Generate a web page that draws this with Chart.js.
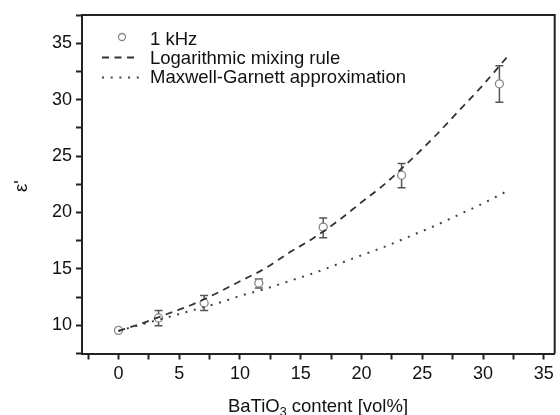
<!DOCTYPE html>
<html>
<head>
<meta charset="utf-8">
<script src="https://cdn.jsdelivr.net/npm/chart.js@4/dist/chart.umd.min.js"></script>
<style>
  html, body { margin: 0; padding: 0; background: #fff; }
  #wrap { width: 560px; height: 415px; }
</style>
</head>
<body>
<div id="wrap"><canvas id="c" width="560" height="415"></canvas></div>
<script>
// ---- data ----
const contentVol = [0, 3.3, 7.05, 11.55, 16.85, 23.3, 31.35];
const epsMeasured = [9.55, 10.65, 11.98, 13.75, 18.7, 23.3, 31.4];
const errLow = [9.45, 9.97, 11.3, 13.3, 17.75, 22.2, 29.76];
const errHigh = [9.65, 11.3, 12.65, 14.1, 19.5, 24.35, 33.0];

const curveX = [0, 2, 4, 6, 8, 10, 12, 14, 16, 18, 20, 22, 24, 26, 28, 30, 32];
const logMixing = [9.5, 10.2, 11.0, 11.8, 12.8, 13.9, 15.0, 16.4, 17.7, 19.2, 20.9, 22.6, 24.6, 26.7, 29.0, 31.3, 33.8];
const maxwellGarnett = [9.5, 10.1, 10.7, 11.3, 11.9, 12.6, 13.2, 13.9, 14.6, 15.4, 16.2, 17.0, 17.9, 18.8, 19.8, 20.8, 21.9];

const xTickLabels = [0, 5, 10, 15, 20, 25, 30, 35];
const yTickLabels = [10, 15, 20, 25, 30, 35];

const legendLabels = ['1 kHz', 'Logarithmic mixing rule', 'Maxwell-Garnett approximation'];
const xTitleParts = ['BaTiO', '3', ' content [vol%]'];
const yTitle = "\u03b5'";

const FONT = "'Liberation Sans', Arial, sans-serif";
const AXIS = '#222';

const scatterPts = contentVol.map((x, i) => ({x: x, y: epsMeasured[i]}));
const logPts = curveX.map((x, i) => ({x: x, y: logMixing[i]}));
const mgPts = curveX.map((x, i) => ({x: x, y: maxwellGarnett[i]}));

const decorPlugin = {
  id: 'decor',
  beforeDatasetsDraw(chart) {
    const ctx = chart.ctx, xs = chart.scales.x, ys = chart.scales.y;
    ctx.save();
    ctx.strokeStyle = '#555';
    ctx.lineWidth = 1.5;
    for (let i = 0; i < contentVol.length; i++) {
      const px = xs.getPixelForValue(contentVol[i]);
      const pl = ys.getPixelForValue(errLow[i]);
      const ph = ys.getPixelForValue(errHigh[i]);
      ctx.beginPath();
      ctx.moveTo(px, pl); ctx.lineTo(px, ph);
      ctx.moveTo(px - 4, pl); ctx.lineTo(px + 4, pl);
      ctx.moveTo(px - 4, ph); ctx.lineTo(px + 4, ph);
      ctx.stroke();
    }
    ctx.restore();
  },
  afterDraw(chart) {
    const ctx = chart.ctx, a = chart.chartArea;
    ctx.save();
    // top & right frame
    ctx.strokeStyle = AXIS;
    ctx.lineWidth = 2;
    ctx.beginPath();
    ctx.moveTo(a.left, a.top); ctx.lineTo(a.right, a.top); ctx.lineTo(a.right, a.bottom);
    ctx.stroke();

    // legend
    ctx.fillStyle = '#111';
    ctx.font = '18.5px ' + FONT;
    ctx.textBaseline = 'alphabetic';
    ctx.textAlign = 'left';
    const tx = 150, base = [45, 64, 83];
    legendLabels.forEach((t, i) => ctx.fillText(t, tx, base[i]));
    // circle symbol
    ctx.beginPath();
    ctx.arc(122, 37, 3.5, 0, Math.PI * 2);
    ctx.fillStyle = '#fff'; ctx.fill();
    ctx.strokeStyle = '#888'; ctx.lineWidth = 1.3; ctx.stroke();
    // dashed symbol
    ctx.strokeStyle = '#333'; ctx.lineWidth = 1.8;
    ctx.setLineDash([7, 5.5]);
    ctx.beginPath(); ctx.moveTo(102, 57.5); ctx.lineTo(138, 57.5); ctx.stroke();
    // dotted symbol
    ctx.strokeStyle = '#444'; ctx.lineWidth = 2;
    ctx.setLineDash([2, 6.7]);
    ctx.beginPath(); ctx.moveTo(102, 77.5); ctx.lineTo(140, 77.5); ctx.stroke();
    ctx.setLineDash([]);

    // x title with subscript
    ctx.fillStyle = '#111';
    const big = '18.5px ' + FONT, small = '12.5px ' + FONT;
    ctx.font = big; const w1 = ctx.measureText(xTitleParts[0]).width;
    ctx.font = small; const w2 = ctx.measureText(xTitleParts[1]).width;
    ctx.font = big; const w3 = ctx.measureText(xTitleParts[2]).width;
    let sx = 318 - (w1 + w2 + w3) / 2;
    const by = 412;
    ctx.font = big; ctx.fillText(xTitleParts[0], sx, by); sx += w1;
    ctx.font = small; ctx.fillText(xTitleParts[1], sx, by + 4); sx += w2;
    ctx.font = big; ctx.fillText(xTitleParts[2], sx, by);

    // y title rotated
    ctx.translate(22, 186);
    ctx.rotate(-Math.PI / 2);
    ctx.textAlign = 'center';
    ctx.textBaseline = 'middle';
    ctx.font = big;
    ctx.fillText(yTitle, 0, 0);
    ctx.restore();
  }
};

new Chart(document.getElementById('c'), {
  type: 'scatter',
  data: {
    datasets: [
      {
        label: legendLabels[1], type: 'line', data: logPts, order: 0,
        borderColor: '#333', borderWidth: 1.8, borderDash: [7, 5.5],
        pointRadius: 0, fill: false, cubicInterpolationMode: 'monotone'
      },
      {
        label: legendLabels[2], type: 'line', data: mgPts, order: 0,
        borderColor: '#444', borderWidth: 2, borderDash: [2, 6.7],
        pointRadius: 0, fill: false, cubicInterpolationMode: 'monotone'
      },
      {
        label: legendLabels[0], data: scatterPts, order: 1,
        pointRadius: 4, pointBorderWidth: 1.3,
        pointBorderColor: '#888', pointBackgroundColor: '#fff'
      }
    ]
  },
  options: {
    responsive: false,
    animation: false,
    events: [],
    layout: { padding: { top: 15, right: 1.5, left: 0, bottom: 0 } },
    plugins: { legend: { display: false }, tooltip: { enabled: false } },
    scales: {
      x: {
        type: 'linear', min: -3, max: 35.9,
        afterFit(s) { s.height = 61.5; },
        border: { display: true, color: AXIS, width: 2 },
        grid: { drawOnChartArea: false, drawTicks: true, tickLength: 6, tickWidth: 2, tickColor: AXIS },
        ticks: {
          stepSize: 2.5, includeBounds: false, autoSkip: false, maxRotation: 0,
          color: '#111', font: { family: FONT, size: 18 }, padding: 4,
          callback: (v) => xTickLabels.includes(v) ? String(v) : ''
        }
      },
      y: {
        type: 'linear', min: 7.5, max: 37.5,
        afterFit(s) { s.width = 82; },
        border: { display: true, color: AXIS, width: 2 },
        grid: { drawOnChartArea: false, drawTicks: true, tickLength: 6, tickWidth: 2, tickColor: AXIS },
        ticks: {
          stepSize: 2.5, includeBounds: false, autoSkip: false,
          color: '#111', font: { family: FONT, size: 18 }, padding: 4,
          callback: (v) => yTickLabels.includes(v) ? String(v) : ''
        }
      }
    }
  },
  plugins: [decorPlugin]
});
</script>
</body>
</html>
